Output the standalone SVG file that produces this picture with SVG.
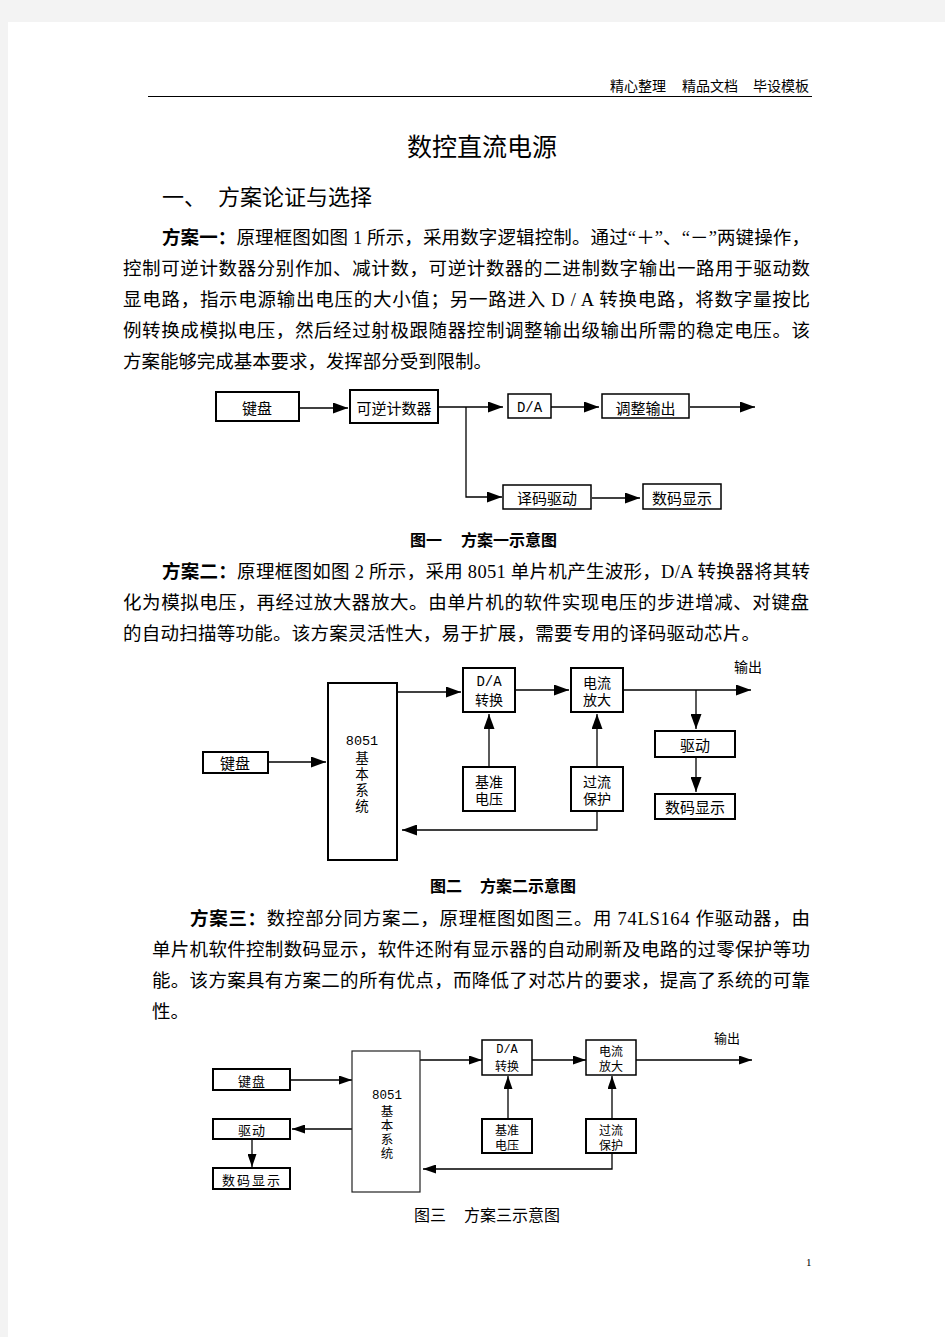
<svg xmlns="http://www.w3.org/2000/svg" width="945" height="1337" viewBox="0 0 945 1337">
<style>
.body{font-family:"Liberation Serif","Noto Sans CJK SC",serif;font-size:18.5px;fill:#000}
.bold{font-weight:bold}
.lbl{font-family:"Noto Sans CJK SC",sans-serif;fill:#000;text-anchor:middle;dominant-baseline:central}
.vt{font-family:"Noto Sans CJK SC",sans-serif;fill:#000;writing-mode:vertical-rl;text-anchor:start}
.mono{font-family:"Liberation Mono","Noto Sans CJK SC",monospace}
.bx{fill:#fff;stroke:#000;stroke-width:2}
.bt{fill:#fff;stroke:#000;stroke-width:1.5}
.bg{fill:#fff;stroke:#222;stroke-width:1.2}
.ln{fill:none;stroke:#000;stroke-width:1.3}
.cap{font-family:"Noto Sans CJK SC",sans-serif;font-size:16px;fill:#000}
</style>
<defs>
<marker id="a1" markerUnits="userSpaceOnUse" markerWidth="15" markerHeight="11" refX="15" refY="5.5" orient="auto"><path d="M0,0 L15,5.5 L0,11 z" fill="#000"/></marker>
<marker id="a3" markerUnits="userSpaceOnUse" markerWidth="13" markerHeight="9" refX="13" refY="4.5" orient="auto"><path d="M0,0 L13,4.5 L0,9 z" fill="#000"/></marker>
</defs>
<rect x="0" y="0" width="945" height="1337" fill="#f3f3f3"/>
<rect x="8" y="22" width="937" height="1315" fill="#fff"/>

<!-- header -->
<g id="header">
<text x="610" y="91" style="font-family:'Noto Sans CJK SC',sans-serif;font-size:14px">精心整理</text>
<text x="682" y="91" style="font-family:'Noto Sans CJK SC',sans-serif;font-size:14px">精品文档</text>
<text x="753" y="91" style="font-family:'Noto Sans CJK SC',sans-serif;font-size:14px">毕设模板</text>
<line x1="148" y1="96.5" x2="812" y2="96.5" stroke="#000" stroke-width="1"/>
</g>

<text x="482" y="156" text-anchor="middle" style="font-family:'Noto Sans CJK SC',sans-serif;font-size:25px">数控直流电源</text>
<text x="162" y="205" style="font-family:'Noto Sans CJK SC',sans-serif;font-size:22px">一、</text>
<text x="218" y="205" style="font-family:'Noto Sans CJK SC',sans-serif;font-size:22px">方案论证与选择</text>

<!-- paragraph 1 -->
<text class="body" x="162" y="244" textLength="648" lengthAdjust="spacing"><tspan class="bold">方案一：</tspan>原理框图如图 1 所示，采用数字逻辑控制。通过“＋”、“－”两键操作，</text>
<text class="body" x="123" y="275" textLength="687" lengthAdjust="spacing">控制可逆计数器分别作加、减计数，可逆计数器的二进制数字输出一路用于驱动数</text>
<text class="body" x="123" y="306" textLength="687" lengthAdjust="spacing">显电路，指示电源输出电压的大小值；另一路进入 D / A 转换电路，将数字量按比</text>
<text class="body" x="123" y="337" textLength="687" lengthAdjust="spacing">例转换成模拟电压，然后经过射极跟随器控制调整输出级输出所需的稳定电压。该</text>
<text class="body" x="123" y="368" textLength="369" lengthAdjust="spacing">方案能够完成基本要求，发挥部分受到限制。</text>

<!-- figure 1 -->
<g id="fig1-connectors">
<path class="ln" d="M299,408 H348" marker-end="url(#a1)"/>
<path class="ln" d="M438,407 H503" marker-end="url(#a1)"/>
<path class="ln" d="M466,407 V497 H502" marker-end="url(#a1)"/>
<path class="ln" d="M551,407 H599" marker-end="url(#a1)"/>
<path class="ln" d="M690,407 H755" marker-end="url(#a1)"/>
<path class="ln" d="M592,498 H640" marker-end="url(#a1)"/>
</g>
<g id="f1-keyboard"><rect class="bx" x="216" y="392" width="83" height="29"/><text class="lbl" x="257" y="407" font-size="15">键盘</text></g>
<g id="f1-counter"><rect class="bx" x="350" y="390" width="88" height="33"/><text class="lbl" x="394" y="407" font-size="15">可逆计数器</text></g>
<g id="f1-da"><rect class="bt" x="508" y="394" width="43" height="24"/><text class="lbl mono" x="529.5" y="407.5" font-size="14">D/A</text></g>
<g id="f1-adjust"><rect class="bt" x="602" y="394" width="87" height="24"/><text class="lbl" x="645.5" y="407" font-size="15">调整输出</text></g>
<g id="f1-decoder"><rect class="bt" x="503" y="485" width="88" height="24"/><text class="lbl" x="547" y="497" font-size="15">译码驱动</text></g>
<g id="f1-display"><rect class="bt" x="643" y="484" width="78" height="25"/><text class="lbl" x="682" y="497" font-size="15">数码显示</text></g>
<text class="cap bold" x="410" y="546">图一</text><text class="cap bold" x="461" y="546">方案一示意图</text>

<!-- paragraph 2 -->
<text class="body" x="162" y="578" textLength="648" lengthAdjust="spacing"><tspan class="bold">方案二：</tspan>原理框图如图 2 所示，采用 8051 单片机产生波形，D/A 转换器将其转</text>
<text class="body" x="123" y="609" textLength="686" lengthAdjust="spacing">化为模拟电压，再经过放大器放大。由单片机的软件实现电压的步进增减、对键盘</text>
<text class="body" x="123" y="640" textLength="637" lengthAdjust="spacing">的自动扫描等功能。该方案灵活性大，易于扩展，需要专用的译码驱动芯片。</text>

<!-- figure 2 -->
<g id="fig2-connectors">
<path class="ln" d="M268,762 H326" marker-end="url(#a1)"/>
<path class="ln" d="M397,692 H461" marker-end="url(#a1)"/>
<path class="ln" d="M515,690 H569" marker-end="url(#a1)"/>
<path class="ln" d="M623,690 H751" marker-end="url(#a1)"/>
<path class="ln" d="M696,690 V729" marker-end="url(#a1)"/>
<path class="ln" d="M696,757 V792" marker-end="url(#a1)"/>
<path class="ln" d="M489,767 V714" marker-end="url(#a1)"/>
<path class="ln" d="M597,767 V714" marker-end="url(#a1)"/>
<path class="ln" d="M597,811 V830 H402" marker-end="url(#a1)"/>
</g>
<text x="748" y="672" style="font-family:'Noto Sans CJK SC',sans-serif;font-size:14px" text-anchor="middle">输出</text>
<g id="f2-8051"><rect class="bx" x="328" y="683" width="69" height="177"/>
<text class="lbl mono" x="362" y="741" font-size="13.5">8051</text>
<text class="vt" x="362" y="751" font-size="13.5" letter-spacing="2.5">基本系统</text></g>
<g id="f2-keyboard"><rect class="bx" x="203" y="752" width="65" height="21"/><text class="lbl" x="235" y="762.5" font-size="15">键盘</text></g>
<g id="f2-da"><rect class="bx" x="463" y="668" width="52" height="44"/><text class="lbl" x="489" y="681.5" font-size="14"><tspan class="mono" x="489" y="681.5">D/A</tspan><tspan x="489" dy="17.5">转换</tspan></text></g>
<g id="f2-amp"><rect class="bx" x="571" y="668" width="52" height="44"/><text class="lbl" x="597" y="681.5" font-size="14"><tspan x="597" y="681.5">电流</tspan><tspan x="597" dy="17.5">放大</tspan></text></g>
<g id="f2-ref"><rect class="bx" x="463" y="767" width="52" height="44"/><text class="lbl" x="489" y="780.5" font-size="14"><tspan x="489" y="780.5">基准</tspan><tspan x="489" dy="17.5">电压</tspan></text></g>
<g id="f2-protect"><rect class="bx" x="571" y="767" width="52" height="44"/><text class="lbl" x="597" y="780.5" font-size="14"><tspan x="597" y="780.5">过流</tspan><tspan x="597" dy="17.5">保护</tspan></text></g>
<g id="f2-driver"><rect class="bx" x="655" y="731" width="80" height="26"/><text class="lbl" x="695" y="744" font-size="15">驱动</text></g>
<g id="f2-display"><rect class="bx" x="655" y="794" width="80" height="25"/><text class="lbl" x="695" y="806.5" font-size="15">数码显示</text></g>
<text class="cap bold" x="430" y="892">图二</text><text class="cap bold" x="480" y="892">方案二示意图</text>

<!-- paragraph 3 -->
<text class="body" x="190" y="925" textLength="620" lengthAdjust="spacing"><tspan class="bold">方案三：</tspan>数控部分同方案二，原理框图如图三。用 74LS164 作驱动器，由</text>
<text class="body" x="152" y="956" textLength="658" lengthAdjust="spacing">单片机软件控制数码显示，软件还附有显示器的自动刷新及电路的过零保护等功</text>
<text class="body" x="152" y="987" textLength="658" lengthAdjust="spacing">能。该方案具有方案二的所有优点，而降低了对芯片的要求，提高了系统的可靠</text>
<text class="body" x="152" y="1018">性。</text>

<!-- figure 3 -->
<g id="fig3-connectors">
<path class="ln" d="M290,1080 H352" marker-end="url(#a3)"/>
<path class="ln" d="M352,1129 H292" marker-end="url(#a3)"/>
<path class="ln" d="M252,1139 V1167" stroke-width="2" marker-end="url(#a3)"/>
<path class="ln" d="M420,1060 H482" marker-end="url(#a3)"/>
<path class="ln" d="M532,1060 H586" marker-end="url(#a3)"/>
<path class="ln" d="M636,1060 H752" marker-end="url(#a3)"/>
<path class="ln" d="M508,1119 V1076" marker-end="url(#a3)"/>
<path class="ln" d="M612,1119 V1076" marker-end="url(#a3)"/>
<path class="ln" d="M612,1153 V1169 H423" marker-end="url(#a3)"/>
</g>
<text x="727" y="1043" style="font-family:'Noto Sans CJK SC',sans-serif;font-size:13px" text-anchor="middle">输出</text>
<g id="f3-keyboard"><rect class="bx" x="213" y="1069" width="77" height="21"/><text class="lbl" x="252" y="1080" font-size="13" letter-spacing="1">键盘</text></g>
<g id="f3-driver"><rect class="bx" x="213" y="1119" width="77" height="20"/><text class="lbl" x="252" y="1129.5" font-size="13" letter-spacing="1">驱动</text></g>
<g id="f3-display"><rect class="bx" x="213" y="1168" width="77" height="21"/><text class="lbl" x="252" y="1179" font-size="13" letter-spacing="2">数码显示</text></g>
<g id="f3-8051"><rect class="bg" x="352" y="1051" width="68" height="141"/>
<text class="lbl mono" x="387" y="1096" font-size="12.5">8051</text>
<text class="vt" x="387" y="1105" font-size="12.5" letter-spacing="1.5">基本系统</text></g>
<g id="f3-da"><rect class="bt" x="482" y="1040" width="50" height="35"/><text class="lbl" x="507" y="1050" font-size="12"><tspan class="mono" x="507" y="1050">D/A</tspan><tspan x="507" dy="15">转换</tspan></text></g>
<g id="f3-amp"><rect class="bt" x="586" y="1040" width="50" height="35"/><text class="lbl" x="611" y="1050" font-size="12"><tspan x="611" y="1050">电流</tspan><tspan x="611" dy="15">放大</tspan></text></g>
<g id="f3-ref"><rect class="bx" x="482" y="1119" width="50" height="34"/><text class="lbl" x="507" y="1129" font-size="12"><tspan x="507" y="1129">基准</tspan><tspan x="507" dy="15">电压</tspan></text></g>
<g id="f3-protect"><rect class="bx" x="586" y="1119" width="50" height="34"/><text class="lbl" x="611" y="1129" font-size="12"><tspan x="611" y="1129">过流</tspan><tspan x="611" dy="15">保护</tspan></text></g>
<text class="cap" x="414" y="1221">图三</text><text class="cap" x="464" y="1221">方案三示意图</text>

<text x="806" y="1266" style="font-family:'Liberation Serif',serif;font-size:11px">1</text>
</svg>
